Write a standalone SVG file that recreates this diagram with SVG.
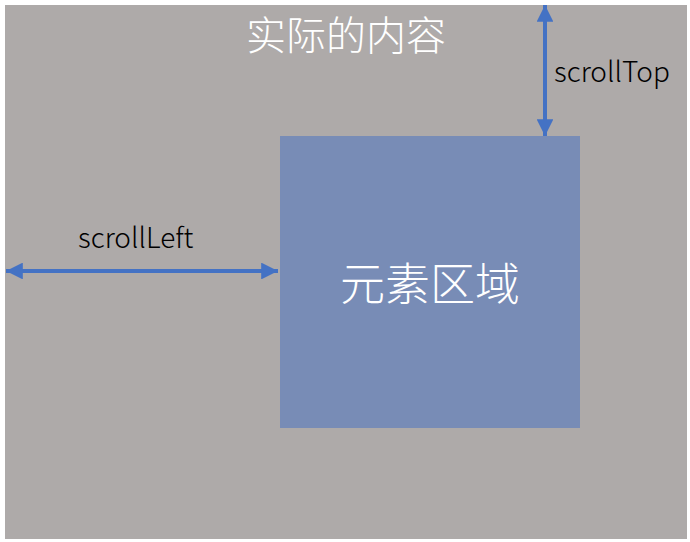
<svg xmlns="http://www.w3.org/2000/svg" width="690" height="542" viewBox="0 0 690 542">
<defs>
<style>
.lbl{font-family:"Noto Sans CJK SC","Liberation Sans",sans-serif;font-weight:300;}
.conn{stroke:#4472c4;stroke-width:4;fill:none;}
</style>
<marker id="ah" viewBox="0 0 10 10" refX="10" refY="5" markerWidth="4.4" markerHeight="4.2" markerUnits="strokeWidth" orient="auto-start-reverse">
<path d="M0,0 L10,5 L0,10 Z" fill="#4472c4"/>
</marker>
</defs>
<rect width="690" height="542" fill="#ffffff"/>
<g id="content">
<rect x="5" y="5" width="682" height="534" fill="#aeaaa9"/>
<text class="lbl" x="346" y="50" font-size="40" fill="#ffffff" text-anchor="middle">实际的内容</text>
</g>
<g id="element">
<rect x="280" y="136" width="300" height="292" fill="#788cb6"/>
<text class="lbl" x="430" y="301" font-size="45" fill="#ffffff" text-anchor="middle">元素区域</text>
</g>
<g id="connectors">
<line class="conn" x1="6" y1="271" x2="278" y2="271" marker-start="url(#ah)" marker-end="url(#ah)"/>
<line class="conn" x1="545" y1="5" x2="545" y2="136" marker-start="url(#ah)" marker-end="url(#ah)"/>
</g>
<g id="labels">
<text class="lbl" x="554" y="82" font-size="28" fill="#000000">scrollTop</text>
<text class="lbl" x="78" y="248" font-size="28" fill="#000000">scrollLeft</text>
</g>
</svg>
